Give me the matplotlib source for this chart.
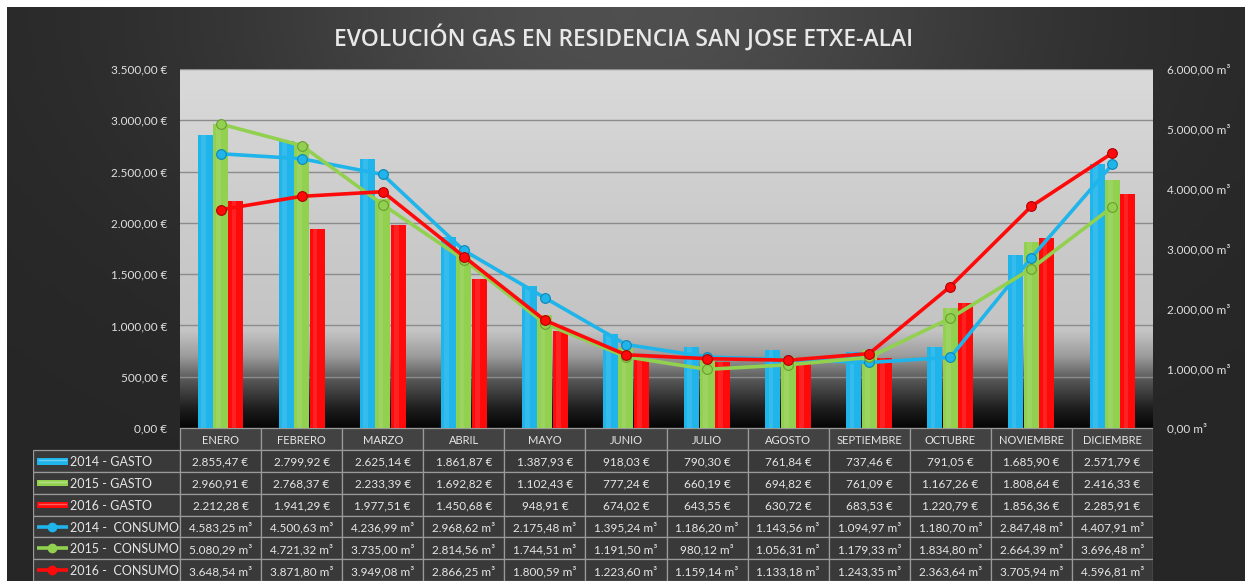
import numpy as np
import matplotlib.pyplot as plt
from matplotlib.colors import LinearSegmentedColormap
from matplotlib.patches import Rectangle
from matplotlib.ticker import FuncFormatter, MultipleLocator

# datos de la tabla
meses = ['ENERO', 'FEBRERO', 'MARZO', 'ABRIL', 'MAYO', 'JUNIO', 'JULIO',
         'AGOSTO', 'SEPTIEMBRE', 'OCTUBRE', 'NOVIEMBRE', 'DICIEMBRE']

gasto_2014 = [2855.47, 2799.92, 2625.14, 1861.87, 1387.93, 918.03,
              790.30, 761.84, 737.46, 791.05, 1685.90, 2571.79]
gasto_2015 = [2960.91, 2768.37, 2233.39, 1692.82, 1102.43, 777.24,
              660.19, 694.82, 761.09, 1167.26, 1808.64, 2416.33]
gasto_2016 = [2212.28, 1941.29, 1977.51, 1450.68, 948.91, 674.02,
              643.55, 630.72, 683.53, 1220.79, 1856.36, 2285.91]

consumo_2014 = [4583.25, 4500.63, 4236.99, 2968.62, 2175.48, 1395.24,
                1186.20, 1143.56, 1094.97, 1180.70, 2847.48, 4407.91]
consumo_2015 = [5080.29, 4721.32, 3735.00, 2814.56, 1744.51, 1191.50,
                980.12, 1056.31, 1179.33, 1834.80, 2664.39, 3696.48]
consumo_2016 = [3648.54, 3871.80, 3949.08, 2866.25, 1800.59, 1223.60,
                1159.14, 1133.18, 1243.35, 2363.64, 3705.94, 4596.81]

azul = '#1fb4ea'
verde = '#92d050'
rojo = '#ff0a0a'

plt.rcParams['font.family'] = ['Lato', 'DejaVu Sans']


def fmt(v):
    s = f'{v:,.2f}'
    return s.replace(',', 'X').replace('.', ',').replace('X', '.')


W, H = 1245, 581
fig = plt.figure(figsize=(W / 100, H / 100), dpi=100)
fig.patch.set_facecolor('white')

# fondo oscuro con degradado
bg = fig.add_axes([7 / W, 0, 1 - 7 / W, 1 - 7 / H])
bg.set_axis_off()
gx = np.linspace(0, 1, 300)
gy = np.linspace(0, 1, 150)
X, Y = np.meshgrid(gx, gy)
val = 0.15 + 0.16 * np.exp(-((X - 0.5) / 0.33) ** 2) * np.exp(-((Y - 1.0) / 0.45) ** 2)
bg.imshow(np.dstack([val, val, val]), extent=[0, 1, 0, 1], origin='lower', aspect='auto')
bg.set_xlim(0, 1)
bg.set_ylim(0, 1)

# grafico principal
x0, x1 = 180, 1153
ytop, ybot = 69, 428
ax = fig.add_axes([x0 / W, 1 - ybot / H, (x1 - x0) / W, (ybot - ytop) / H])
ax.patch.set_alpha(0)

cmap = LinearSegmentedColormap.from_list('fondo', [
    (0.0, '#050505'), (0.05, '#1c1c1c'), (0.13, '#555555'),
    (0.2, '#9c9c9c'), (0.27, '#c4c4c4'), (0.6, '#cccccc'), (1.0, '#dadada')])
grad = np.linspace(0, 1, 256).reshape(-1, 1)
ax.imshow(grad, cmap=cmap, extent=[0, 1, 0, 1], origin='lower', aspect='auto',
          transform=ax.transAxes, zorder=-2)

xs = np.arange(len(meses))
bw = 0.19
for off, vals, col in [(-bw, gasto_2014, azul), (0, gasto_2015, verde), (bw, gasto_2016, rojo)]:
    ax.bar(xs + off, vals, width=bw * 0.97, color=col, zorder=2)
    ax.bar(xs + off - bw * 0.12, vals, width=bw * 0.3, color='white', alpha=0.1,
           zorder=2.1, linewidth=0)

ax.set_xlim(-0.5, 11.5)
ax.set_ylim(0, 3500)
ax.yaxis.set_major_locator(MultipleLocator(500))
ax.yaxis.set_major_formatter(FuncFormatter(lambda v, p: fmt(v) + ' €'))
ax.set_xticks([])
ax.yaxis.grid(True, color='#8c8c8c', linewidth=1)
ax.set_axisbelow(True)
ax.tick_params(axis='y', length=0, pad=9, labelsize=8.5, labelcolor='#e0e0e0')
for s in ax.spines.values():
    s.set_visible(False)

ax2 = ax.twinx()
for vals, col, edge in [(consumo_2014, azul, '#0e86b5'), (consumo_2015, verde, '#6a9e30'),
                        (consumo_2016, rojo, '#b00000')]:
    ax2.plot(xs, vals, color=col, linewidth=2.6, marker='o', markersize=7,
             markerfacecolor=col, markeredgecolor=edge, markeredgewidth=0.8,
             zorder=3, solid_capstyle='round')
ax2.set_ylim(0, 6000)
ax2.yaxis.set_major_locator(MultipleLocator(1000))
ax2.yaxis.set_major_formatter(FuncFormatter(lambda v, p: fmt(v) + ' m³'))
ax2.tick_params(axis='y', length=0, pad=10, labelsize=8.5, labelcolor='#e0e0e0')
for s in ax2.spines.values():
    s.set_visible(False)

fig.text(0.501, 1 - 38 / H, 'EVOLUCIÓN GAS EN RESIDENCIA SAN JOSE ETXE-ALAI',
         ha='center', va='center', color='#e8e8e8', fontsize=16.5,
         fontweight='semibold', family=['Open Sans', 'DejaVu Sans'])

# tabla de datos
tl = 33
rh = 21.8
tax = fig.add_axes([tl / W, 0, (x1 - tl) / W, 7 * rh / H])
tax.set_axis_off()
cw = (x1 - x0) / 12
lab_left = -0.5 - (180 - tl) / cw
tax.set_xlim(lab_left, 11.5)
tax.set_ylim(7, 0)

cell = '#393939'
borde = '#9a9a9a'
txt = '#e6e6e6'

for j, m in enumerate(meses):
    tax.add_patch(Rectangle((j - 0.5, 0), 1, 1, facecolor='#424242', edgecolor=borde, lw=0.9))
    tax.text(j, 0.55, m, ha='center', va='center', color=txt, fontsize=8)

filas = [
    ('2014 - GASTO', gasto_2014, azul, ' €', 'barra'),
    ('2015 - GASTO', gasto_2015, verde, ' €', 'barra'),
    ('2016 - GASTO', gasto_2016, rojo, ' €', 'barra'),
    ('2014 -  CONSUMO', consumo_2014, azul, ' m³', 'linea'),
    ('2015 -  CONSUMO', consumo_2015, verde, ' m³', 'linea'),
    ('2016 -  CONSUMO', consumo_2016, rojo, ' m³', 'linea'),
]
for i, (nombre, vals, col, unidad, tipo) in enumerate(filas):
    r = i + 1
    tax.add_patch(Rectangle((lab_left, r), -0.5 - lab_left, 1, facecolor=cell,
                            edgecolor=borde, lw=0.9))
    k0 = lab_left + 4 / cw
    k1 = lab_left + 35 / cw
    if tipo == 'barra':
        tax.add_patch(Rectangle((k0, r + 0.36), k1 - k0, 0.3, facecolor=col, lw=0))
        tax.plot([k0 + 0.02, k1 - 0.02], [r + 0.45, r + 0.45], color='white', alpha=0.35, lw=1)
    else:
        tax.plot([k0, k1], [r + 0.5, r + 0.5], color=col, lw=2.6, solid_capstyle='butt')
        tax.plot([(k0 + k1) / 2], [r + 0.5], marker='o', markersize=6, color=col)
    tax.text(lab_left + 37 / cw, r + 0.55, nombre, ha='left', va='center',
             color=txt, fontsize=9)
    for j, v in enumerate(vals):
        tax.add_patch(Rectangle((j - 0.5, r), 1, 1, facecolor=cell, edgecolor=borde, lw=0.9))
        tax.text(j, r + 0.55, fmt(v) + unidad, ha='center', va='center',
                 color=txt, fontsize=8.5)

fig.savefig('out.png', dpi=100, facecolor=fig.get_facecolor())
